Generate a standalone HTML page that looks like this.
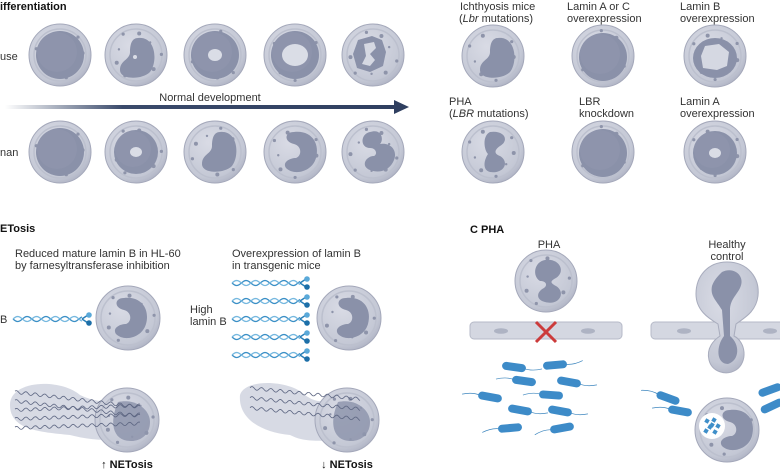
<!DOCTYPE html>
<html><head><meta charset="utf-8"><style>
html,body{margin:0;padding:0;background:#fff;}
svg{display:block;font-family:"Liberation Sans",sans-serif;}
.t{font-size:11px;fill:#333;}
.b{font-size:11px;font-weight:bold;fill:#111;}
</style></head><body>
<svg id="s" width="780" height="470" viewBox="0 0 780 470" xmlns="http://www.w3.org/2000/svg">
<defs>
<radialGradient id="cg" cx="0.4" cy="0.35" r="0.7">
<stop offset="0" stop-color="#d9dbe5"/><stop offset="0.8" stop-color="#c4c8d5"/><stop offset="1" stop-color="#aeb2c3"/></radialGradient>
<linearGradient id="ag" x1="0" x2="1"><stop offset="0" stop-color="#3a4a6b" stop-opacity="0"/><stop offset="0.3" stop-color="#3a4a6b"/><stop offset="1" stop-color="#2f3f60"/></linearGradient>
</defs>
<g id="shapes"></g>
<text class="b" x="0" y="10">ifferentiation</text>
<text class="t" x="0" y="60">use</text>
<text class="t" x="0" y="156">nan</text>
<text class="t" x="210" y="101" text-anchor="middle">Normal development</text>
<text class="t" x="460" y="10">Ichthyosis mice</text>
<text class="t" x="459" y="22">(<tspan font-style="italic">Lbr</tspan> mutations)</text>
<text class="t" x="567" y="10">Lamin A or C</text>
<text class="t" x="567" y="22">overexpression</text>
<text class="t" x="680" y="10">Lamin B</text>
<text class="t" x="680" y="22">overexpression</text>
<text class="t" x="449" y="105">PHA</text>
<text class="t" x="449" y="117">(<tspan font-style="italic">LBR</tspan> mutations)</text>
<text class="t" x="579" y="105">LBR</text>
<text class="t" x="579" y="117">knockdown</text>
<text class="t" x="680" y="105">Lamin A</text>
<text class="t" x="680" y="117">overexpression</text>
<text class="b" x="0" y="232">ETosis</text>
<text class="t" x="15" y="257">Reduced mature lamin B in HL-60</text>
<text class="t" x="15" y="269">by farnesyltransferase inhibition</text>
<text class="t" x="0" y="323">B</text>
<text class="t" x="232" y="257">Overexpression of lamin B</text>
<text class="t" x="232" y="269">in transgenic mice</text>
<text class="t" x="190" y="313">High</text>
<text class="t" x="190" y="325">lamin B</text>
<text class="b" x="127" y="468" text-anchor="middle">↑ NETosis</text>
<text class="b" x="347" y="468" text-anchor="middle">↓ NETosis</text>
<text class="b" x="470" y="233">C PHA</text>
<text class="t" x="549" y="248" text-anchor="middle">PHA</text>
<text class="t" x="727" y="248" text-anchor="middle">Healthy</text>
<text class="t" x="727" y="260" text-anchor="middle">control</text>
</svg>
<script>
const NS="http://www.w3.org/2000/svg";
const S=document.getElementById('shapes');
function el(tag,a,p){const e=document.createElementNS(NS,tag);for(const k in a)e.setAttribute(k,a[k]);(p||S).appendChild(e);return e;}
const N="#8a91a9";
function cell(x,y,r){el('circle',{cx:x,cy:y,r:r,fill:'url(#cg)',stroke:'#a4a8ba','stroke-width':1});
 el('circle',{cx:x,cy:y,r:r-5,fill:'none',stroke:'#bcc0ce','stroke-width':1.5});
 for(let i=0;i<9;i++){const a=i*0.7+x*0.01,d=r*(0.55+0.3*((i*37)%10)/10);el('circle',{cx:x+Math.cos(a)*d,cy:y+Math.sin(a)*d,r:1.2+(i%3)*0.4,fill:'#8e94aa'});}}
function path(d,f,extra){el('path',Object.assign({d:d,fill:f||N},extra||{}));}
function round(x,y,r,hole){el('circle',{cx:x,cy:y,r:r,fill:N});el('circle',{cx:x-3,cy:y-3,r:r-4,fill:'#9298af',opacity:.5});if(hole)el('ellipse',{cx:x,cy:y,rx:hole[0],ry:hole[1],fill:'#dadde6'});}
function kidney(x,y){path(`M${x+2},${y-20} C${x+20},${y-22} ${x+22},${y+4} ${x+14},${y+14} C${x+6},${y+22} ${x-16},${y+22} ${x-16},${y+12} C${x-16},${y+2} ${x-6},${y+2} ${x-6},${y-6} C${x-6},${y-14} ${x-4},${y-20} ${x+2},${y-20}Z`);}
function band(x,y){path(`M${x-4},${y-20} C${x+14},${y-22} ${x+22},${y-8} ${x+18},${y+6} C${x+14},${y+20} ${x-4},${y+24} ${x-12},${y+16} C${x-16},${y+10} ${x-8},${y+6} ${x-2},${y+6} C${x+4},${y+4} ${x+4},${y-6} ${x-4},${y-8} C${x-14},${y-10} ${x-14},${y-20} ${x-4},${y-20}Z`);}
function seg(x,y){path(`M${x-6},${y-20} C${x+6},${y-24} ${x+8},${y-12} ${x+4},${y-8} C${x+14},${y-10} ${x+22},${y-2} ${x+18},${y+8} C${x+14},${y+18} ${x+4},${y+22} ${x-6},${y+18} C${x-16},${y+14} ${x-10},${y+4} ${x-2},${y+4} C${x+2},${y+2} ${x},${y-4} ${x-6},${y-4} C${x-16},${y-4} ${x-16},${y-18} ${x-6},${y-20}Z`);}
function ring(x,y){el('ellipse',{cx:x,cy:y,rx:22,ry:20,fill:N});path(`M${x-10},${y-12} L${x+4},${y-14} L${x+14},${y-6} L${x+12},${y+8} L${x+2},${y+12} L${x-12},${y+10} L${x-14},${y-2}Z`,'#d5d8e2');}
cell(60,55,31);round(60,55,24);
cell(136,55,31);kidney(136,58);el('circle',{cx:135,cy:57,r:2,fill:'#dadde6'});
cell(215,55,31);round(215,55,24,[7,6]);
cell(295,55,31);round(295,55,24,[13,11]);
cell(373,55,31);path('M358,40 L372,36 L382,40 L386,52 L383,66 L370,72 L357,68 L353,54Z');path('M364,44 L374,42 L376,48 L370,54 L375,60 L370,66 L362,64 L366,56Z','#d5d8e2');
cell(60,152,31);round(60,152,24);
cell(136,152,31);round(136,152,22,[6,5]);
cell(215,152,31);kidney(218,152);
cell(295,152,31);band(298,152);
cell(373,152,31);seg(376,152);
el('rect',{x:5,y:105,width:392,height:4,fill:'url(#ag)'});
el('path',{d:'M394,100 L409,107 L394,114 Z',fill:'#2f3f60'});
cell(493,56,31);kidney(496,58);
cell(603,56,31);round(603,57,24);
cell(715,56,31);ring(715,58);
cell(493,152,31);path('M490,132 C504,130 510,140 500,146 C494,150 494,154 500,156 C510,162 504,174 490,172 C482,170 484,160 488,154 C484,150 482,136 490,132Z');
cell(603,152,31);round(603,153,24);
cell(715,152,31);round(715,153,22,[6,5]);
function dna(x1,x2,y){let d1='',d2='';for(let x=x1;x<=x2;x+=1){const s=Math.sin((x-x1)/3)*2.5;d1+=(x==x1?'M':'L')+x+','+(y+s);d2+=(x==x1?'M':'L')+x+','+(y-s);}
 el('path',{d:d1,fill:'none',stroke:'#3a8fc6','stroke-width':1.3});el('path',{d:d2,fill:'none',stroke:'#76b8df','stroke-width':1.3});
 el('path',{d:`M${x2},${y} L${x2+6},${y-4} M${x2},${y} L${x2+6},${y+4}`,stroke:'#2a7fb8','stroke-width':1.5});
 el('circle',{cx:x2+7,cy:y-4,r:2.8,fill:'#5aa9d9'});el('circle',{cx:x2+7,cy:y+4,r:2.8,fill:'#1d6fa8'});}
dna(13,82,319);
for(let i=0;i<5;i++)dna(232,300,283+i*18);
cell(128,318,32);band(128,318);
cell(349,318,32);band(350,318);
el('path',{d:'M10,405 C10,380 60,378 80,395 C95,402 105,402 115,400 L120,440 C100,440 90,440 70,435 C40,432 10,430 10,405Z',fill:'#cdd1dd',opacity:.8});
cell(127,420,32);path('M118,402 C136,398 150,410 150,422 C150,436 138,444 124,440 C112,436 110,420 118,402Z','#8e95ad',{opacity:.85});
for(let i=0;i<5;i++){let d='';for(let x=15;x<=140;x+=1){const y=392+i*9+(x-15)*0.12*(i<2?1:-0.3)+Math.sin(x/1.5)*1.6;d+=(x==15?'M':'L')+x+','+y;}el('path',{d:d,fill:'none',stroke:'#5d6682','stroke-width':0.8});}
el('path',{d:'M240,395 C245,378 290,380 305,395 C315,402 320,402 330,400 L335,440 C310,442 300,440 290,435 C260,432 238,418 240,395Z',fill:'#cdd1dd',opacity:.8});
cell(347,420,32);path('M338,402 C356,398 370,410 370,422 C370,436 358,444 344,440 C332,436 330,420 338,402Z','#8e95ad',{opacity:.85});
for(let i=0;i<3;i++){let d='';for(let x=250;x<=360;x+=1){const y=388+i*10+(x-250)*0.1+Math.sin(x/1.5)*1.6;d+=(x==250?'M':'L')+x+','+y;}el('path',{d:d,fill:'none',stroke:'#5d6682','stroke-width':0.8});}
function bar(x,w){el('rect',{x:x,y:322,width:w,height:17,rx:4,fill:'#d4d7e1',stroke:'#b6bac8'});}
bar(470,152);bar(651,140);
el('ellipse',{cx:501,cy:331,rx:7,ry:2.8,fill:'#aeb3c3'});el('ellipse',{cx:588,cy:331,rx:7,ry:2.8,fill:'#aeb3c3'});
el('ellipse',{cx:684,cy:331,rx:7,ry:2.8,fill:'#aeb3c3'});el('ellipse',{cx:770,cy:331,rx:7,ry:2.8,fill:'#aeb3c3'});
cell(546,281,31);path('M545,260 C560,258 566,272 556,278 C550,281 550,283 556,286 C566,292 560,306 545,302 C536,300 536,292 544,288 C548,285 546,281 540,281 C532,276 534,262 545,260Z');
el('path',{d:'M536,322 L556,342 M556,322 L536,342',stroke:'#cc3b3b','stroke-width':3});
el('path',{d:'M727,262 C748,262 760,278 758,296 C756,312 744,318 736,324 L734,336 C746,342 748,362 736,370 C726,376 712,372 709,360 C706,348 714,340 720,336 L718,324 C708,318 696,310 696,294 C696,276 708,262 727,262Z',fill:'url(#cg)',stroke:'#a8acbd'});
path('M722,272 C734,266 746,276 740,288 C736,296 730,300 730,310 L730,336 C740,344 740,360 728,364 C716,364 716,346 724,336 L722,310 C716,300 710,296 712,286 C714,280 718,276 722,272Z');
cell(727,430,32);band(734,430);
el('circle',{cx:712,cy:426,r:13,fill:'#fff'});
for(const [a,b] of [[-5,-5],[2,-6],[6,0],[-2,1],[-6,5],[3,6],[0,-1]])el('rect',{x:712+a-2,y:426+b-2,width:4,height:4,fill:'#3f8fc9',transform:`rotate(30 ${712+a} ${426+b})`});
function bac(x,y,ang,tail){const g=el('g',{transform:`translate(${x},${y}) rotate(${ang})`});
 el('path',{d:`M${tail?'-10,0 Q-18,-2 -28,2':'10,0 Q18,2 28,-2'}`,fill:'none',stroke:'#3d86be','stroke-width':0.7},g);
 el('rect',{x:-12,y:-4,width:24,height:8,rx:4,fill:'#3d8bc8'},g);}
[[514,367,8,0],[555,365,-5,0],[524,381,8,1],[569,382,10,0],[490,397,10,1],[551,395,4,1],[520,410,10,0],[560,411,10,0],[510,428,-5,1],[562,428,-10,1]].forEach(b=>bac(...b));
[[668,398,20,1],[680,411,10,1],[770,390,-20,0],[772,406,-25,0]].forEach(b=>bac(...b));
</script>
</body></html>
